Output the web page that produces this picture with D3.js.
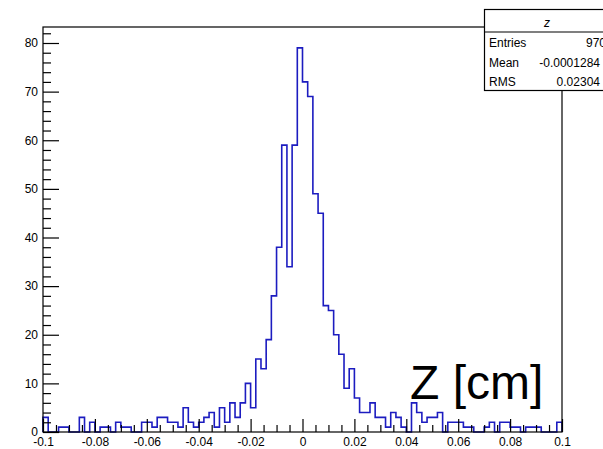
<!DOCTYPE html>
<html>
<head>
<meta charset="utf-8">
<script src="https://cdn.jsdelivr.net/npm/d3@7"></script>
<style>
  html, body { margin: 0; padding: 0; background: #fff; }
  svg { display: block; }
  text { font-family: "Liberation Sans", Arial, Helvetica, sans-serif; }
</style>
</head>
<body>
<svg id="chart" width="603" height="449"></svg>
<script>
// Histogram "z": 100 bins from -0.1 to 0.1 cm
const xRange = [-0.1, 0.1];
const binWidth = 0.002;
const counts = [
  3, 0, 0, 1, 1, 0, 0, 3, 0, 2,
  0, 1, 1, 0, 2, 1, 1, 0, 0, 2,
  2, 1, 3, 3, 2, 2, 1, 5, 2, 1,
  2, 3, 4, 1, 5, 2, 6, 3, 6, 10,
  5, 15, 13, 19, 28, 38, 59, 34, 59, 79,
  72, 69, 49, 45, 26, 25, 20, 16, 9, 13,
  7, 4, 4, 6, 3, 3, 1, 4, 3, 1,
  0, 6, 4, 2, 3, 3, 4, 0, 2, 2,
  2, 1, 1, 0, 0, 1, 2, 0, 2, 2,
  1, 1, 0, 1, 1, 1, 0, 0, 0, 2
];

const xMajorTicks = [-0.1, -0.08, -0.06, -0.04, -0.02, 0, 0.02, 0.04, 0.06, 0.08, 0.1];
const xTickLabels = ["-0.1", "-0.08", "-0.06", "-0.04", "-0.02", "0", "0.02", "0.04", "0.06", "0.08", "0.1"];
const yMajorTicks = [0, 10, 20, 30, 40, 50, 60, 70, 80];

const statsTitle = "z";
const statsNames = ["Entries", "Mean", "RMS"];
const statsValues = ["970", "-0.0001284", "0.02304"];
const axisTitle = "Z [cm]";

// Layout
const frame = { left: 43, right: 562, top: 27, bottom: 432 };
const svg = d3.select("#chart");

const x = d3.scaleLinear().domain(xRange).range([frame.left, frame.right]);
const y = d3.scaleLinear().domain([0, 80]).range([frame.bottom, 43]);

// Step outline of the histogram
const bins = counts.map((c, i) => ({ x0: xRange[0] + i * binWidth, x1: xRange[0] + (i + 1) * binWidth, c }));
const path = d3.path();
path.moveTo(x(bins[0].x0), y(0));
bins.forEach(b => {
  path.lineTo(x(b.x0), y(b.c));
  path.lineTo(x(b.x1), y(b.c));
});
path.lineTo(x(bins[bins.length - 1].x1), y(0));

svg.append("path")
  .attr("d", path.toString())
  .attr("fill", "none")
  .attr("stroke", "#1c1cc0")
  .attr("stroke-width", 1.6)
  .attr("stroke-linejoin", "miter");

// Frame
svg.append("rect")
  .attr("x", frame.left).attr("y", frame.top)
  .attr("width", frame.right - frame.left)
  .attr("height", frame.bottom - frame.top)
  .attr("fill", "none")
  .attr("stroke", "#000")
  .attr("stroke-width", 1.2);

// X axis: major ticks with labels, minor ticks every 0.005
const xMinor = d3.range(-0.1, 0.1001, 0.005).map(v => +v.toFixed(3))
  .filter(v => !xMajorTicks.some(t => Math.abs(t - v) < 1e-9));

const xAxisMajor = d3.axisBottom(x)
  .tickValues(xMajorTicks)
  .tickFormat((d, i) => xTickLabels[i])
  .tickSize(-13)
  .tickSizeOuter(0)
  .tickPadding(5);

const gx = svg.append("g").attr("transform", `translate(0,${frame.bottom})`).call(xAxisMajor);
gx.select(".domain").remove();
gx.selectAll("text").attr("font-size", 12).attr("font-family", "Liberation Sans, Arial, sans-serif").attr("fill", "#000");
gx.selectAll("line").attr("stroke", "#000").attr("stroke-width", 1.2);

const gxMinor = svg.append("g").attr("transform", `translate(0,${frame.bottom})`)
  .call(d3.axisBottom(x).tickValues(xMinor).tickFormat("").tickSize(-7).tickSizeOuter(0));
gxMinor.select(".domain").remove();
gxMinor.selectAll("line").attr("stroke", "#000").attr("stroke-width", 1.2);

// Y axis: major every 10, minor every 2
const yMinor = d3.range(0, 83, 2).filter(v => v % 10 !== 0);

const gy = svg.append("g").attr("transform", `translate(${frame.left},0)`)
  .call(d3.axisLeft(y).tickValues(yMajorTicks).tickSize(-16).tickSizeOuter(0).tickPadding(5));
gy.select(".domain").remove();
gy.selectAll("text").attr("font-size", 12).attr("font-family", "Liberation Sans, Arial, sans-serif").attr("fill", "#000");
gy.selectAll("line").attr("stroke", "#000").attr("stroke-width", 1.2);

const gyMinor = svg.append("g").attr("transform", `translate(${frame.left},0)`)
  .call(d3.axisLeft(y).tickValues(yMinor).tickFormat("").tickSize(-8).tickSizeOuter(0));
gyMinor.select(".domain").remove();
gyMinor.selectAll("line").attr("stroke", "#000").attr("stroke-width", 1.2);

// Statistics box
const box = { x: 484.5, y: 9.5, w: 125, h: 81, sep: 32 };
const gs = svg.append("g");
gs.append("rect")
  .attr("x", box.x).attr("y", box.y).attr("width", box.w).attr("height", box.h)
  .attr("fill", "#fff").attr("stroke", "#000").attr("stroke-width", 1.2);
gs.append("line")
  .attr("x1", box.x).attr("x2", box.x + box.w)
  .attr("y1", box.sep).attr("y2", box.sep)
  .attr("stroke", "#000").attr("stroke-width", 1.2);
gs.append("text")
  .attr("x", box.x + box.w / 2).attr("y", 27)
  .attr("text-anchor", "middle").attr("font-size", 12).attr("font-style", "italic")
  .text(statsTitle);
const rowBase = [47, 66.5, 86];
const valueRight = [606, 600, 600];
statsNames.forEach((n, i) => {
  gs.append("text").attr("x", 489).attr("y", rowBase[i]).attr("font-size", 12).text(n);
  gs.append("text").attr("x", valueRight[i]).attr("y", rowBase[i])
    .attr("text-anchor", "end").attr("font-size", 12).text(statsValues[i]);
});

// Axis title
svg.append("text")
  .attr("x", 410).attr("y", 399)
  .attr("font-size", 48)
  .attr("fill", "#000")
  .text(axisTitle);
</script>
</body>
</html>
